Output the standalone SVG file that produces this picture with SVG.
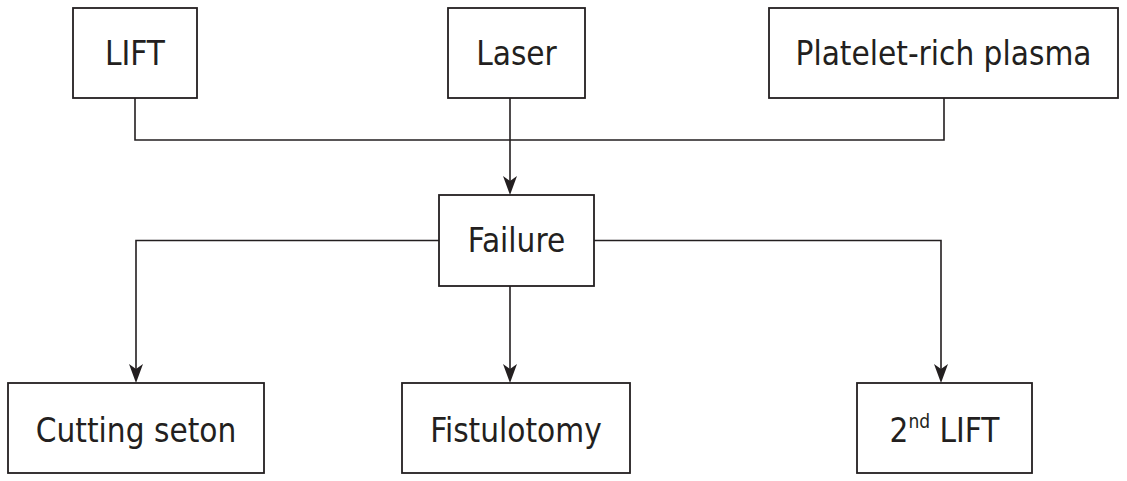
<svg xmlns="http://www.w3.org/2000/svg" width="1127" height="481" viewBox="0 0 1127 481">
<style>
.box{fill:#fff;stroke:#231f20;stroke-width:1.8}
.lbl{font-family:"DejaVu Sans Condensed","DejaVu Sans",sans-serif;font-size:33px;fill:#231f20;text-anchor:middle}
.ln{fill:none;stroke:#231f20;stroke-width:1.6}
.ah{fill:#231f20}
</style>
<rect width="1127" height="481" fill="#fff"/>
<g id="connectors">
<polyline class="ln" points="135,98 135,140 944,140 944,98"/>
<line class="ln" x1="510" y1="98" x2="510" y2="190"/>
<path class="ah" d="M503,176 L510,181 L517,176 L510,195 Z"/>
<polyline class="ln" points="439,240.5 136,240.5 136,378"/>
<path class="ah" d="M129,364 L136,369 L143,364 L136,383 Z"/>
<line class="ln" x1="510" y1="286" x2="510" y2="378"/>
<path class="ah" d="M503,364 L510,369 L517,364 L510,383 Z"/>
<polyline class="ln" points="594,240.5 941,240.5 941,378"/>
<path class="ah" d="M934,364 L941,369 L948,364 L941,383 Z"/>
</g>
<g id="lift"><rect class="box" x="73" y="8" width="124" height="90"/><text class="lbl" x="135" y="65">LIFT</text></g>
<g id="laser"><rect class="box" x="448" y="8" width="137" height="90"/><text class="lbl" x="516.5" y="65">Laser</text></g>
<g id="prp"><rect class="box" x="769" y="8" width="349" height="90"/><text class="lbl" x="943.5" y="65">Platelet-rich plasma</text></g>
<g id="failure"><rect class="box" x="439" y="195" width="155" height="91"/><text class="lbl" x="516.5" y="252">Failure</text></g>
<g id="cutting"><rect class="box" x="8" y="383" width="256" height="90"/><text class="lbl" x="136" y="442">Cutting seton</text></g>
<g id="fistulotomy"><rect class="box" x="402" y="383" width="228" height="90"/><text class="lbl" x="516" y="442">Fistulotomy</text></g>
<g id="lift2"><rect class="box" x="857" y="383" width="175" height="90"/><text class="lbl" x="944.5" y="442">2<tspan font-size="19" dy="-14">nd</tspan><tspan dy="14"> LIFT</tspan></text></g>
</svg>
